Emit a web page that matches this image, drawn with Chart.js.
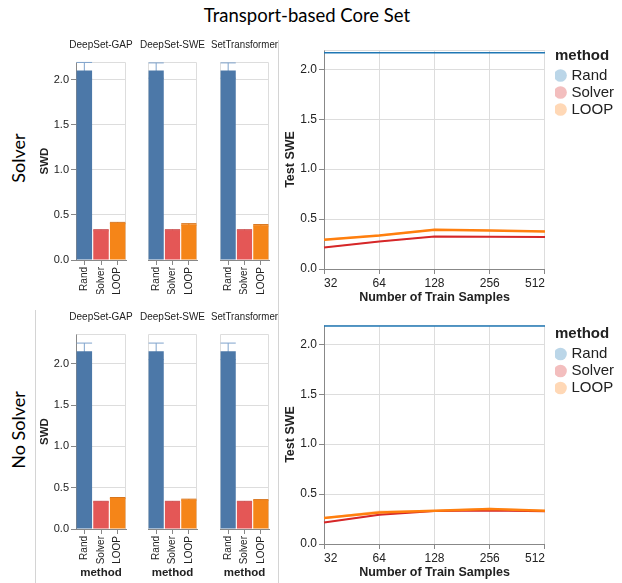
<!DOCTYPE html>
<html>
<head>
<meta charset="utf-8">
<script src="https://cdn.jsdelivr.net/npm/chart.js@4.4.1/dist/chart.umd.min.js"></script>
<style>
  body { margin: 0; background: #fff; }
  #wrap { position: relative; width: 622px; height: 583px; overflow: hidden; }
  canvas { position: absolute; }
  .txt { position: absolute; font-family: Lato, sans-serif; color: #000; white-space: nowrap; }
  .rot { transform: translate(-50%, -50%) rotate(-90deg); font-size: 18px; }
  .sep { position: absolute; width: 1px; background: #d4d4d4; }
</style>
</head>
<body>
<div id="wrap">
  <div class="txt" style="left:0;width:614px;top:4px;text-align:center;font-size:18.5px;">Transport-based Core Set</div>
  <div class="txt rot" style="left:18px;top:158px;">Solver</div>
  <div class="txt rot" style="left:18px;top:430px;">No Solver</div>
  <div class="sep" style="left:278px;top:40px;height:543px;"></div>
  <div class="sep" style="left:35px;top:310px;height:273px;"></div>

  <canvas id="b0" width="130" height="264" style="left:36px;top:30px;"></canvas>
  <canvas id="b1" width="73" height="264" style="left:136px;top:30px;"></canvas>
  <canvas id="b2" width="67" height="264" style="left:211px;top:30px;"></canvas>
  <canvas id="b3" width="130" height="276" style="left:36px;top:305px;"></canvas>
  <canvas id="b4" width="73" height="276" style="left:136px;top:305px;"></canvas>
  <canvas id="b5" width="67" height="276" style="left:211px;top:305px;"></canvas>
  <canvas id="l0" width="341" height="266" style="left:283px;top:40px;"></canvas>
  <canvas id="l1" width="341" height="266" style="left:283px;top:315px;"></canvas>
</div>
<script>
const methods = ['Rand', 'Solver', 'LOOP'];
const models = ['DeepSet-GAP', 'DeepSet-SWE', 'SetTransformer'];
const samples = ['32', '64', '128', '256', '512'];

// SWD per model, one row per model, columns follow methods
const swdSolver = [[2.10, 0.33, 0.41], [2.10, 0.33, 0.395], [2.10, 0.33, 0.385]];
const swdSolverErr = [[0.09, 0.006, 0.007], [0.085, 0.006, 0.008], [0.085, 0.006, 0.008]];
const swdNoSolver = [[2.15, 0.33, 0.375], [2.15, 0.33, 0.355], [2.15, 0.33, 0.35]];
const swdNoSolverErr = [[0.10, 0.005, 0.006], [0.10, 0.005, 0.006], [0.10, 0.005, 0.006]];

// Test SWE vs number of train samples (Solver row)
const randSolver = [2.166, 2.166, 2.166, 2.166, 2.166];
const solverSolver = [0.216, 0.276, 0.326, 0.323, 0.32];
const solverSolverLo = [0.211, 0.271, 0.321, 0.318, 0.315];
const solverSolverHi = [0.221, 0.281, 0.331, 0.328, 0.325];
const loopSolver = [0.293, 0.336, 0.393, 0.385, 0.376];
const loopSolverLo = [0.283, 0.327, 0.384, 0.377, 0.368];
const loopSolverHi = [0.304, 0.345, 0.403, 0.393, 0.385];

// Test SWE vs number of train samples (No Solver row)
const randNoSolver = [2.183, 2.183, 2.183, 2.183, 2.183];
const solverNoSolver = [0.216, 0.293, 0.33, 0.336, 0.328];
const solverNoSolverLo = [0.211, 0.288, 0.325, 0.331, 0.323];
const solverNoSolverHi = [0.221, 0.298, 0.335, 0.341, 0.333];
const loopNoSolver = [0.26, 0.316, 0.333, 0.35, 0.333];
const loopNoSolverLo = [0.25, 0.303, 0.326, 0.34, 0.327];
const loopNoSolverHi = [0.268, 0.336, 0.34, 0.362, 0.34];

const barColors = ['#4c78a8', '#e45756', '#f58518'];
const errColors = ['#7fa3cc', '#c9494a', '#d8741a'];
const lineColors = ['#1f77b4', '#d62728', '#ff7f0e'];
const fadeColors = ['rgba(31,119,180,0.3)', 'rgba(214,39,40,0.3)', 'rgba(255,127,14,0.3)'];

Chart.defaults.font.family = "'Liberation Sans', Arial, sans-serif";
Chart.defaults.color = '#222';

// light border round the plot area
const framePlugin = {
    id: 'frame',
    beforeDatasetsDraw(chart, args, opts) {
        const a = chart.chartArea;
        const l = Math.round(a.left) + 0.5, r = Math.round(a.right) - 0.5;
        const t = Math.round(a.top) + 0.5, b = Math.round(a.bottom);
        const ctx = chart.ctx;
        ctx.save();
        ctx.strokeStyle = '#ddd';
        ctx.lineWidth = 1;
        ctx.beginPath();
        if (opts.left) { ctx.moveTo(l, b); ctx.lineTo(l, t); } else { ctx.moveTo(l, t); }
        ctx.lineTo(r, t);
        ctx.lineTo(r, b);
        ctx.stroke();
        ctx.restore();
    }
};

// error bars, drawn under the bars
const errorBarPlugin = {
    id: 'errorBars',
    beforeDatasetsDraw(chart, args, opts) {
        if (!opts.errors) return;
        const ctx = chart.ctx;
        const y = chart.scales.y;
        const values = chart.data.datasets[0].data;
        chart.getDatasetMeta(0).data.forEach((bar, i) => {
            const hi = y.getPixelForValue(values[i] + opts.errors[i]);
            const lo = y.getPixelForValue(values[i] - opts.errors[i]);
            const half = bar.width / 2;
            ctx.save();
            ctx.strokeStyle = errColors[i];
            ctx.lineWidth = 1;
            ctx.beginPath();
            ctx.moveTo(bar.x, lo); ctx.lineTo(bar.x, hi);
            ctx.moveTo(bar.x - half, hi); ctx.lineTo(bar.x + half, hi);
            ctx.moveTo(bar.x - half, lo); ctx.lineTo(bar.x + half, lo);
            ctx.stroke();
            ctx.restore();
        });
    }
};

// cfg.left / cfg.right: room kept on each side of the plot inside the canvas
function barPanel(id, idx, values, errs, yMax, cfg) {
    const first = idx === 0;
    new Chart(document.getElementById(id), {
        type: 'bar',
        data: {
            labels: methods,
            datasets: [{
                data: values,
                backgroundColor: barColors,
                barPercentage: 0.93,
                categoryPercentage: 1
            }]
        },
        options: {
            responsive: false,
            animation: false,
            layout: { padding: { top: cfg.top, left: 0, right: 0, bottom: 0 } },
            plugins: {
                legend: { display: false },
                tooltip: { enabled: false },
                title: {
                    display: true,
                    text: models[idx],
                    font: { size: 10, weight: 'normal' },
                    padding: { top: 0, bottom: 11 }
                },
                frame: { left: !first },
                errorBars: { errors: errs }
            },
            scales: {
                x: {
                    grid: { display: true, drawOnChartArea: false, offset: false, tickLength: 5, tickColor: '#888' },
                    border: { color: '#888' },
                    ticks: { minRotation: 90, maxRotation: 90, font: { size: 10 }, padding: 2 },
                    title: {
                        display: cfg.showMethod,
                        text: 'method',
                        font: { size: 11.5, weight: 'bold' },
                        padding: { top: 0, bottom: 1.4 }
                    },
                    afterFit: s => { s.height = cfg.xHeight; }
                },
                y: {
                    min: 0,
                    max: yMax,
                    ticks: {
                        display: first,
                        stepSize: 0.5,
                        includeBounds: false,
                        callback: v => v.toFixed(1),
                        font: { size: 11 },
                        padding: 2
                    },
                    grid: { color: '#ddd', tickColor: '#888', tickLength: 5, drawTicks: first },
                    border: { display: first, color: '#888' },
                    title: {
                        display: first,
                        text: 'SWD',
                        font: { size: 11.5, weight: 'bold' },
                        padding: { top: 2, bottom: 0 }
                    },
                    afterFit: s => { s.width = cfg.left; }
                },
                pad: {
                    type: 'linear',
                    position: 'right',
                    grid: { display: false },
                    border: { display: false },
                    ticks: { display: false },
                    afterFit: s => { s.width = cfg.right; }
                }
            }
        },
        plugins: [framePlugin, errorBarPlugin]
    });
}

function linePanel(id, series, legendTop) {
    const [rand, solver, solverLo, solverHi, loop, loopLo, loopHi] = series;
    new Chart(document.getElementById(id), {
        type: 'line',
        data: {
            labels: samples,
            datasets: [
                { label: 'Rand', data: rand, borderColor: lineColors[0], backgroundColor: fadeColors[0], borderWidth: 1.6, order: 2 },
                { label: 'Solver', data: solver, borderColor: lineColors[1], backgroundColor: fadeColors[1], borderWidth: 2, order: 1 },
                { label: 'LOOP', data: loop, borderColor: lineColors[2], backgroundColor: fadeColors[2], borderWidth: 2.5, order: 0 },
                { label: 'solverLo', data: solverLo, borderWidth: 0, fill: false, order: 4 },
                { label: 'solverHi', data: solverHi, borderWidth: 0, backgroundColor: fadeColors[1], fill: 3, order: 4 },
                { label: 'loopLo', data: loopLo, borderWidth: 0, fill: false, order: 3 },
                { label: 'loopHi', data: loopHi, borderWidth: 0, backgroundColor: fadeColors[2], fill: 5, order: 3 }
            ]
        },
        options: {
            responsive: false,
            animation: false,
            layout: { padding: { top: 10, right: 0 } },
            elements: { point: { radius: 0 }, line: { tension: 0 } },
            plugins: {
                tooltip: { enabled: false },
                frame: { left: false },
                legend: {
                    position: 'right',
                    align: 'start',
                    maxWidth: 120,
                    labels: {
                        usePointStyle: true,
                        boxWidth: 7,
                        boxHeight: 9,
                        padding: 2,
                        font: { size: 15 },
                        filter: item => item.datasetIndex < 3,
                        sort: (a, b) => a.datasetIndex - b.datasetIndex,
                        generateLabels: chart => Chart.defaults.plugins.legend.labels.generateLabels(chart)
                            .map(item => Object.assign(item, { strokeStyle: item.fillStyle, lineWidth: 0 }))
                    },
                    title: {
                        display: true,
                        text: 'method',
                        position: 'start',
                        font: { size: 15, weight: 'bold' },
                        padding: { top: legendTop, bottom: 0 }
                    }
                }
            },
            scales: {
                x: {
                    offset: false,
                    grid: { color: '#ddd', tickColor: '#888', tickLength: 5 },
                    border: { color: '#888' },
                    ticks: { font: { size: 12 }, align: 'inner', padding: 2, maxRotation: 0 },
                    title: {
                        display: true,
                        text: 'Number of Train Samples',
                        font: { size: 12.5, weight: 'bold' },
                        padding: { top: 0, bottom: 1 }
                    },
                    afterFit: s => { s.height = 37; }
                },
                y: {
                    min: 0,
                    max: 2.193,
                    ticks: { stepSize: 0.5, includeBounds: false, callback: v => v.toFixed(1), font: { size: 12 }, padding: 2 },
                    grid: { color: '#ddd', tickColor: '#888', tickLength: 5 },
                    border: { color: '#888' },
                    title: {
                        display: true,
                        text: 'Test SWE',
                        font: { size: 12.5, weight: 'bold' },
                        padding: { top: 0, bottom: 0 }
                    },
                    afterFit: s => { s.width = 41; }
                },
                // spacer between the plot and the legend
                gap: {
                    type: 'linear',
                    position: 'right',
                    grid: { display: false },
                    border: { display: false },
                    ticks: { display: false },
                    afterFit: s => { s.width = 10; }
                }
            }
        },
        plugins: [framePlugin]
    });
}

// canvases are centred on their plot so the panel title sits over it
const side = [{ left: 40, right: 40 }, { left: 12, right: 12 }, { left: 9, right: 9 }];

for (let i = 0; i < 3; i++) {
    barPanel('b' + i, i, swdSolver[i], swdSolverErr[i], 2.195,
        { ...side[i], top: 9, xHeight: 34, showMethod: false });
    barPanel('b' + (i + 3), i, swdNoSolver[i], swdNoSolverErr[i], 2.36,
        { ...side[i], top: 6, xHeight: 52, showMethod: true });
}

linePanel('l0', [randSolver, solverSolver, solverSolverLo, solverSolverHi, loopSolver, loopSolverLo, loopSolverHi], -2);
linePanel('l1', [randNoSolver, solverNoSolver, solverNoSolverLo, solverNoSolverHi, loopNoSolver, loopNoSolverLo, loopNoSolverHi], 1.5);
</script>
</body>
</html>
